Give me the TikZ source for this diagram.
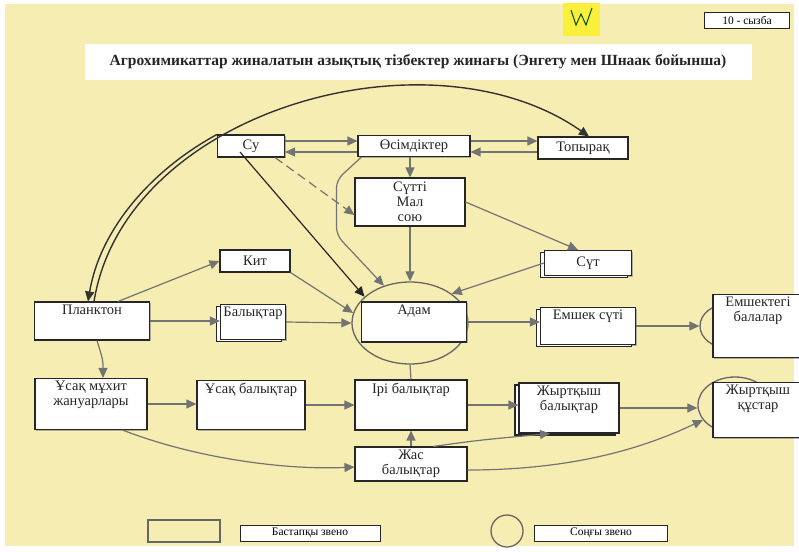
\documentclass[tikz,border=0pt]{standalone}
\usepackage{fontspec}
\setmainfont{Liberation Serif}
\usetikzlibrary{arrows.meta,shapes.geometric,shadows,positioning}
\definecolor{paper}{RGB}{246,237,178}
\definecolor{sticky}{RGB}{250,240,60}
\newcommand\nodefont{\fontsize{14.5}{15}\selectfont}
\newcommand\tagfont{\fontsize{11.5}{12}\selectfont}

\begin{document}
\begin{tikzpicture}[x=1pt, y=-1pt,
    box/.style={draw=black!85, fill=white, line width=1.1pt, font=\nodefont, text=black!85,
                align=center, inner sep=2pt,
                drop shadow={shadow xshift=1pt, shadow yshift=-1pt, opacity=.6}},
    stack/.style={copy shadow={shadow xshift=-4pt, shadow yshift=-2pt}},
    dim/.style 2 args={minimum width=#1pt, minimum height=#2pt},
    toplabel/.style={label={[anchor=north, inner sep=3pt, align=center, font=\nodefont,
                            text=black!85]north:#1}},
    ring/.style={ellipse, draw=black!60, line width=1.3pt, inner sep=0pt},
    tag/.style={draw=black!85, fill=white, line width=.9pt, font=\tagfont, inner sep=1pt},
    flow/.style={draw=black!55, line width=1.2pt, -{Triangle[width=9pt,length=10pt]}},
    darkflow/.style={flow, draw=black!85},
    arc/.style={flow, draw=black!80, line width=1.4pt}]

  % paper
  \useasboundingbox (0,0) rectangle (799,551);
  \fill[white] (0,0) rectangle (799,551);
  \fill[paper] (5,4) rectangle (794,546);
  \fill[sticky] (563,3) rectangle (600,36);
  \draw[black!70!green, line width=1pt] (571,10) -- (576,25) -- (581,14) -- (586,25) -- (592,8);

  % title
  \node[fill=white, minimum width=667pt, minimum height=35pt,
        font=\fontsize{15.5}{17}\selectfont\bfseries, text=black!85] (title) at (418,62)
        {Агрохимикаттар жиналатын азықтық тізбектер жинағы (Энгету мен Шнаак бойынша)};
  \node[tag, dim={85}{16}] (fignum) at (747,20) {10 - сызба};

  % rings
  \node[ring, dim={116}{82}] (adamring) at (410,323) {};
  \node[ring, dim={56}{44}] (babyring) at (728,326) {};
  \node[ring, dim={74}{56}] (birdring) at (735,405) {};

  % boxes
  \node[box, dim={67}{22}] (su) at (251,146) {Су};
  \node[box, dim={112}{21}] (osim) at (414,146) {Өсімдіктер};
  \node[box, dim={90}{22}] (topyrak) at (583,148) {Топырақ};
  \node[box, dim={110}{48}] (mal) at (410,202) {Сүтті\\Мал\\сою};
  \node[box, dim={70}{22}] (kit) at (255,261) {Кит};
  \node[box, stack, dim={87}{25}] (sut) at (588,263) {Сүт};
  \node[box, dim={115}{38}, toplabel=Планктон] (plankton) at (92,321) {};
  \node[box, stack, dim={65}{35}, toplabel=Балықтар] (balyq) at (253,322) {};
  \node[box, dim={105}{40}, toplabel=Адам] (adam) at (414,322) {};
  \node[box, stack, dim={95}{37}, toplabel={Емшек сүті}] (milk) at (588,326) {};
  \node[box, dim={90}{63}, toplabel={Емшектегі\\балалар}] (babies) at (758,326) {};
  \node[box, dim={112}{51}, toplabel={Ұсақ мұхит\\жануарлары}] (ocean) at (91,404) {};
  \node[box, dim={108}{49}, toplabel={Ұсақ балықтар}] (smallfish) at (251,405) {};
  \node[box, dim={112}{50}, toplabel={Ірі балықтар}] (bigfish) at (411,405) {};
  \node[box, stack, dim={100}{50}, toplabel={Жыртқыш\\балықтар}] (predfish) at (569,408) {};
  \node[box, dim={90}{55}, toplabel={Жыртқыш\\құстар}] (birds) at (758,410) {};
  \node[box, dim={112}{34}] (young) at (411,464) {Жас\\балықтар};

  % top row
  \draw[flow] ([yshift=5pt]su.east) -- ([yshift=5pt]osim.west);
  \draw[flow] ([yshift=-6pt]osim.west) -- ([yshift=-6pt]su.east);
  \draw[flow] ([yshift=5pt]osim.east) -- ([yshift=5pt]osim.east -| topyrak.west);
  \draw[flow] ([yshift=-6pt]osim.east -| topyrak.west) -- ([yshift=-6pt]osim.east);
  \draw[flow] (osim.south -| mal.north) -- (mal.north);
  \draw[flow, dash pattern=on 9pt off 5pt] ([xshift=-10pt]su.south east) -- ([yshift=-13pt]mal.west);

  % to the man
  \draw[darkflow] ([xshift=-11pt,yshift=-6pt]su.center) -- (adamring.150);
  \draw[flow, rounded corners=8pt] ([xshift=4pt]osim.south west) -- ++(-25,23) -- ++(0,55)
    -- (adamring.125);
  \draw[flow] (mal.south) -- (adamring.north);
  \draw[flow] (mal.east) -- ([xshift=-10pt]sut.north);
  \draw[flow] (sut.west) -- (adamring.35);
  \draw[flow] (kit.south east) -- (adamring.170);
  \draw[flow] (balyq.east) -- (adamring.west);
  \draw[flow] ([xshift=26pt]plankton.north) -- (kit.west);
  \draw[flow] (plankton.east) -- (plankton.east -| balyq.west);
  \draw[flow] ([xshift=5pt]plankton.south) .. controls (103,360) .. ([xshift=12pt]ocean.north);

  % great arcs
  \draw[arc] (su.north west) .. controls (150,171) and (100,230) .. ([xshift=-4pt]plankton.north);
  \draw[arc] ([xshift=2pt]plankton.north) .. controls (125,110) and (430,25) ..
    ([xshift=6pt]topyrak.north);

  % milk line
  \draw[flow] (adam.east) -- (adam.east -| milk.west);
  \draw[flow] (milk.east) -- (milk.east -| babyring.west);

  % sea line
  \draw[flow] (ocean.east) -- (ocean.east -| smallfish.west);
  \draw[flow] (smallfish.east) -- (smallfish.east -| bigfish.west);
  \draw[flow] (bigfish.east) -- (bigfish.east -| predfish.west);
  \draw[flow] (predfish.east) -- (predfish.east -| birdring.west);
  \draw[draw=black!55, line width=1.2pt] (bigfish.north) -- (adamring.south);
  \draw[flow] (young.north) -- (bigfish.south);
  \draw[flow] ([xshift=-25pt]ocean.south east) .. controls (200,460) and (290,470) ..
    ([yshift=-3pt]young.west);
  \draw[flow] ([xshift=22pt]young.north) .. controls (480,440) .. ([xshift=-19pt]predfish.south);
  \draw[flow] ([yshift=-6pt]young.east) .. controls (580,470) and (650,445) .. (birdring.205);

  % legend
  \node[draw=black!60, line width=1.8pt, dim={72}{22}] (legrect) at (184,531) {};
  \node[tag, dim={140}{16}] (legstart) at (310,533) {Бастапқы звено};
  \node[ring, circle, dim={32}{32}] (legring) at (507,531) {};
  \node[tag, dim={133}{16}] (legend) at (601,533) {Соңғы звено};
\end{tikzpicture}
\end{document}
